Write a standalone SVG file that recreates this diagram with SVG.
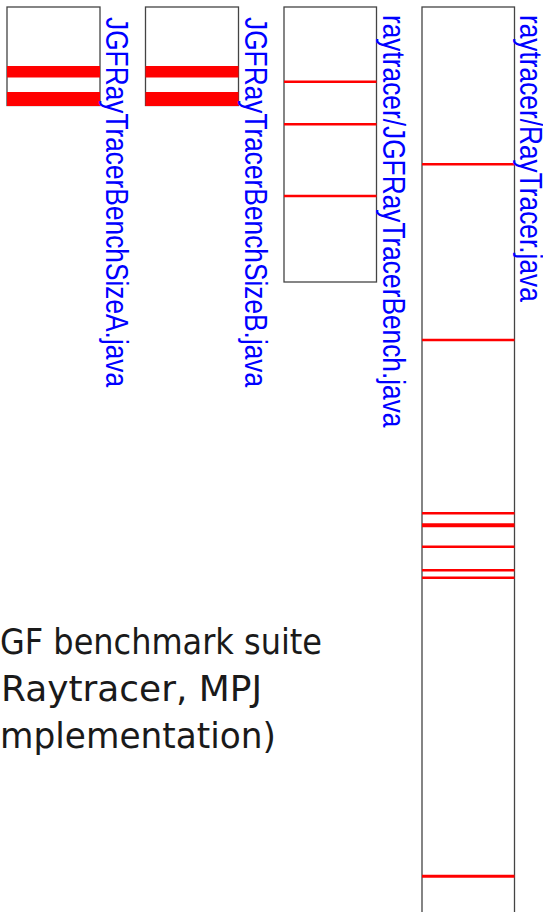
<svg xmlns="http://www.w3.org/2000/svg" width="543" height="912" viewBox="0 0 543 912">
<style>
.box{fill:#fff;stroke:#444;stroke-width:1.3}
.hit{stroke:#ff0000;stroke-width:2.5}
.band{fill:#ff0000}
.lbl{font-family:"Liberation Sans",Arial,sans-serif;font-size:26.3px;fill:#0000ff}
.cap{font-family:"DejaVu Sans",Verdana,sans-serif;font-size:36px;fill:#1a1a1a}
</style>
<rect width="543" height="912" fill="#fff"/>
<g id="fileA">
<rect class="box" x="7" y="7" width="93" height="98.5"/>
<rect class="band" x="7" y="66" width="93" height="11.5"/>
<rect class="band" x="7" y="92" width="93" height="14"/>
<text class="lbl" transform="translate(106,17) rotate(90) scale(1,1.16)">JGFRayTracerBenchSizeA.java</text>
</g>
<g id="fileB">
<rect class="box" x="145.5" y="7" width="93" height="98.5"/>
<rect class="band" x="145.5" y="66" width="93" height="11.5"/>
<rect class="band" x="145.5" y="92" width="93" height="14"/>
<text class="lbl" transform="translate(245,17) rotate(90) scale(1,1.16)">JGFRayTracerBenchSizeB.java</text>
</g>
<g id="fileBench">
<rect class="box" x="284" y="7" width="92.5" height="275"/>
<line class="hit" x1="284" y1="81.7" x2="376.5" y2="81.7"/>
<line class="hit" x1="284" y1="124.3" x2="376.5" y2="124.3"/>
<line class="hit" x1="284" y1="196" x2="376.5" y2="196"/>
<text class="lbl" transform="translate(383,15) rotate(90) scale(1,1.16)">raytracer/JGFRayTracerBench.java</text>
</g>
<g id="fileRayTracer">
<rect class="box" x="422" y="7" width="92.5" height="920"/>
<line class="hit" x1="422" y1="164.3" x2="514.5" y2="164.3"/>
<line class="hit" x1="422" y1="340" x2="514.5" y2="340"/>
<line class="hit" x1="422" y1="513.3" x2="514.5" y2="513.3"/>
<line class="hit" x1="422" y1="525.3" x2="514.5" y2="525.3" style="stroke-width:4"/>
<line class="hit" x1="422" y1="546.7" x2="514.5" y2="546.7"/>
<line class="hit" x1="422" y1="570.3" x2="514.5" y2="570.3"/>
<line class="hit" x1="422" y1="577.7" x2="514.5" y2="577.7"/>
<line class="hit" x1="422" y1="876.3" x2="514.5" y2="876.3" style="stroke-width:3"/>
<text class="lbl" transform="translate(520,15) rotate(90) scale(1,1.16)">raytracer/RayTracer.java</text>
</g>
<g id="connectors"></g>
<g id="caption">
<text class="cap" x="0" y="654" textLength="322" lengthAdjust="spacingAndGlyphs">GF benchmark suite</text>
<text class="cap" x="1" y="701" textLength="261" lengthAdjust="spacingAndGlyphs">Raytracer, MPJ</text>
<text class="cap" x="0" y="748" textLength="276" lengthAdjust="spacingAndGlyphs">mplementation)</text>
</g>
</svg>
